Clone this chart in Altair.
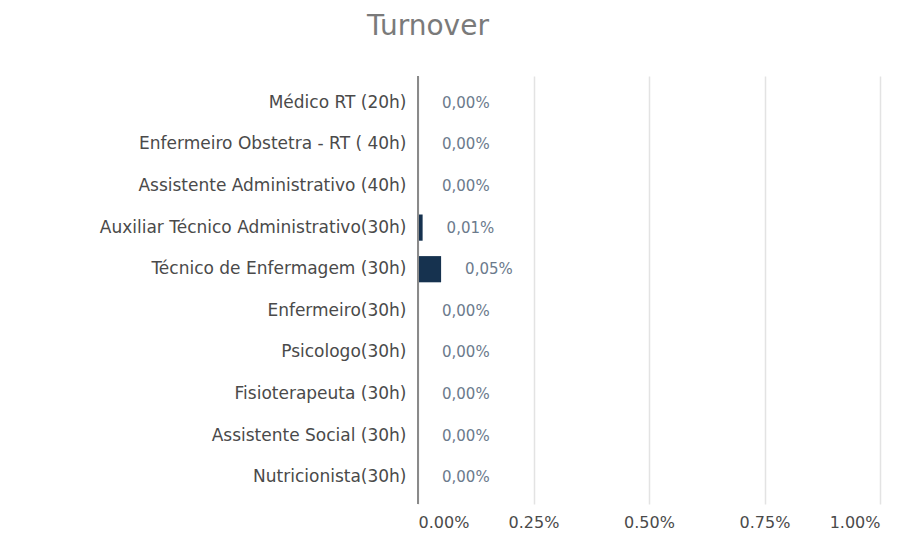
import altair as alt
import pandas as pd

categories = [
    "Médico RT (20h)",
    "Enfermeiro Obstetra - RT ( 40h)",
    "Assistente Administrativo (40h)",
    "Auxiliar Técnico Administrativo(30h)",
    "Técnico de Enfermagem (30h)",
    "Enfermeiro(30h)",
    "Psicologo(30h)",
    "Fisioterapeuta (30h)",
    "Assistente Social (30h)",
    "Nutricionista(30h)",
]
values = [0.0, 0.0, 0.0, 0.0001, 0.0005, 0.0, 0.0, 0.0, 0.0, 0.0]
value_labels = ["0,00%", "0,00%", "0,00%", "0,01%", "0,05%", "0,00%", "0,00%", "0,00%", "0,00%", "0,00%"]

df = pd.DataFrame({"cargo": categories, "valor": values, "rotulo": value_labels})

font = "DejaVu Sans"

y_enc = alt.Y("cargo:N", sort=categories, title=None,
              scale=alt.Scale(paddingInner=0.37, paddingOuter=0.33),
              axis=alt.Axis(labelFont=font, labelFontSize=17, labelColor="#4a4a4a",
                            ticks=False, labelPadding=12, domain=False, labelLimit=500,
                            minExtent=405, maxExtent=405))

x_enc = alt.X("valor:Q", title=None,
              scale=alt.Scale(domain=[0, 0.01], nice=False),
              axis=alt.Axis(format=".2%", values=[0, 0.0025, 0.005, 0.0075, 0.01],
                            labelFont=font, labelFontSize=16, labelColor="#4a4a4a",
                            ticks=False, domain=False, labelPadding=10,
                            gridColor="#e3e3e3", gridWidth=1.5))

bars = alt.Chart(df).mark_bar(color="#16324f").encode(x=x_enc, y=y_enc)

texts = alt.Chart(df).mark_text(align="left", dx=24, font=font, fontSize=15,
                                color="#6b7a8c").encode(
    x=alt.X("valor:Q"), y=alt.Y("cargo:N", sort=categories), text="rotulo:N")

zero = alt.Chart(pd.DataFrame({"z": [0]})).mark_rule(color="#8a8a8a", strokeWidth=2).encode(
    x="z:Q")

chart = alt.layer(bars, zero, texts).properties(
    width=462, height=428,
    title=alt.TitleParams("Turnover", font=font, fontSize=28, fontWeight="normal",
                          color="#7a7a7a", anchor="middle", dx=-221, offset=34),
).configure_view(stroke=None)

chart.save("out.html", embed_options={"renderer": "svg", "actions": False})
